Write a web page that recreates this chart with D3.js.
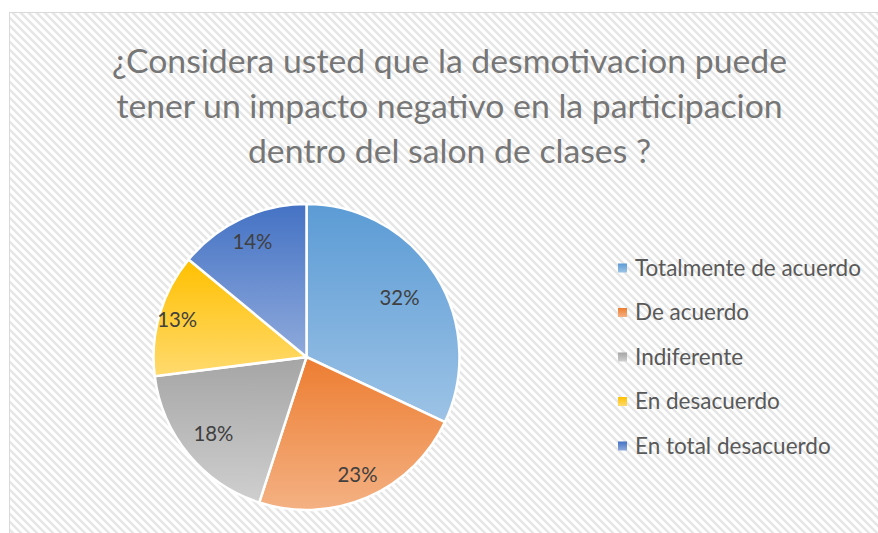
<!DOCTYPE html>
<html><head><meta charset="utf-8">
<script src="https://cdn.jsdelivr.net/npm/d3@7"></script>
<style>body{margin:0;background:#fff}svg{display:block}</style>
</head><body>
<svg id="c" width="878" height="533"></svg>
<script>
const titleLines = ["¿Considera usted que la desmotivacion puede", "tener un impacto negativo en la participacion", "dentro del salon de clases ?"];
const categories = ["Totalmente de acuerdo", "De acuerdo", "Indiferente", "En desacuerdo", "En total desacuerdo"];
const values = [32, 23, 18, 13, 14];
const labels = ["32%", "23%", "18%", "13%", "14%"];
const colorsTop = ["#5B9BD5", "#ED7D31", "#A5A5A5", "#FFC000", "#4472C4"];
const colorsBottom = ["#9DC3E6", "#F4B183", "#CFCFCF", "#FFDA6E", "#8FAADC"];

const FONT = "Lato, 'Open Sans', sans-serif";
const svg = d3.select("#c");
const defs = svg.append("defs");
const pat = defs.append("pattern").attr("id","bg").attr("patternUnits","userSpaceOnUse")
  .attr("width",8).attr("height",8);
pat.append("rect").attr("width",8).attr("height",8).attr("fill","#ffffff");
pat.append("path").attr("d","M-2,6 L2,10 M0,0 L8,8 M6,-2 L10,2").attr("stroke","#e6e6e6").attr("stroke-width",2.4);

colorsTop.forEach((c,i)=>{
  const g = defs.append("linearGradient").attr("id","g"+i).attr("x1",0).attr("y1",0).attr("x2",0).attr("y2",1);
  g.append("stop").attr("offset","0%").attr("stop-color",c);
  g.append("stop").attr("offset","100%").attr("stop-color",colorsBottom[i]);
});

svg.append("rect").attr("x",9.5).attr("y",12.5).attr("width",900).attr("height",600)
  .attr("fill","url(#bg)").attr("stroke","#d9d9d9").attr("stroke-width",1);

function fit(sel, base, target){
  const w = sel.node().getComputedTextLength();
  sel.attr("font-size", base*target/w);
}

// Title
const tl = svg.append("g").attr("font-family",FONT).attr("fill","#767676")
  .selectAll("text").data(titleLines).join("text")
  .attr("x",449.5).attr("y",(d,i)=>73+i*45).attr("text-anchor","middle").attr("font-size",30).text(d=>d);
fit(tl, 30, 675);

// Pie
const cx = 306.5, cy = 357, R = 153;
const pie = d3.pie().sort(null).value(d=>d)(values);
const arc = d3.arc().innerRadius(0).outerRadius(R);
const pg = svg.append("g").attr("transform",`translate(${cx},${cy})`);
pg.selectAll("path").data(pie).join("path")
  .attr("d",arc).attr("fill",(d,i)=>`url(#g${i})`).attr("stroke","#fff").attr("stroke-width",2.5);

const labelR = [0.72, 0.84, 0.79, 0.88, 0.83];
const lt = pg.selectAll("text").data(pie).join("text")
  .attr("transform",(d,i)=>{const a=(d.startAngle+d.endAngle)/2; const r=R*labelR[i]; return `translate(${r*Math.sin(a)},${-r*Math.cos(a)})`;})
  .attr("text-anchor","middle").attr("dy","0.35em")
  .attr("font-family",FONT).attr("font-size",18).attr("fill","#404040")
  .text((d,i)=>labels[i]);
fit(lt, 18, 40);

// Legend
const rows = svg.append("g").selectAll("g").data(categories).join("g")
  .attr("transform",(d,i)=>`translate(618,${268+i*44.5})`);
rows.append("rect").attr("x",0).attr("y",-4.5).attr("width",9).attr("height",9).attr("fill",(d,i)=>`url(#g${i})`);
const lx = rows.append("text").attr("x",17).attr("dy","0.35em").attr("font-family",FONT)
  .attr("font-size",19).attr("fill","#595959").text(d=>d);
fit(lx, 19, 226);
</script>
</body></html>
